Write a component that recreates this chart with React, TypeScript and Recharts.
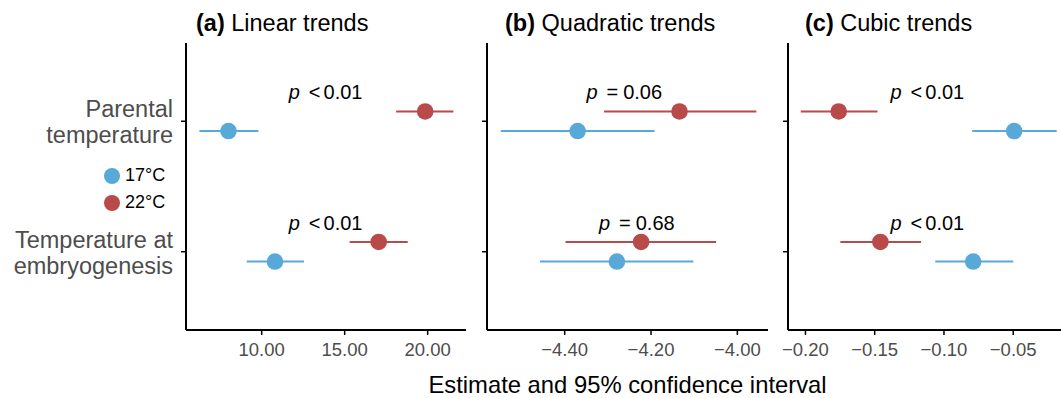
import { ScatterChart, Scatter, XAxis, YAxis, ErrorBar, Legend } from "recharts";

const FONT = "'Liberation Sans', Arial, Helvetica, sans-serif";
const BLUE = "#59a9d8";
const RED = "#b84a4a";

// rows of the y axis (top to bottom)
const rows = ["Parental temperature", "Temperature at embryogenesis"];
const rowLines = [
  ["Parental", "temperature"],
  ["Temperature at", "embryogenesis"],
];
const rowY = [2, 1];
const groups = ["17°C", "22°C"];

// (a) linear trends
const linearEst17 = [8.0, 10.8];
const linearLow17 = [6.25, 9.1];
const linearHigh17 = [9.8, 12.55];
const linearEst22 = [19.85, 17.05];
const linearLow22 = [18.1, 15.3];
const linearHigh22 = [21.55, 18.8];
const linearP = ["< 0.01", "< 0.01"];
const linearPx = [13.85, 13.85];
const linearTicks = [10, 15, 20];

// (b) quadratic trends
const quadEst17 = [-4.37, -4.279];
const quadLow17 = [-4.548, -4.457];
const quadHigh17 = [-4.192, -4.102];
const quadEst22 = [-4.134, -4.223];
const quadLow22 = [-4.309, -4.398];
const quadHigh22 = [-3.956, -4.049];
const quadP = ["= 0.06", "= 0.68"];
const quadPx = [-4.262, -4.233];
const quadTicks = [-4.4, -4.2, -4.0];

// (c) cubic trends
const cubicEst17 = [-0.0493, -0.0789];
const cubicLow17 = [-0.0796, -0.1063];
const cubicHigh17 = [-0.0186, -0.05];
const cubicEst22 = [-0.176, -0.1459];
const cubicLow22 = [-0.2034, -0.1748];
const cubicHigh22 = [-0.148, -0.1165];
const cubicP = ["< 0.01", "< 0.01"];
const cubicPx = [-0.112, -0.112];
const cubicTicks = [-0.2, -0.15, -0.1, -0.05];

const DODGE = 0.075;
const P_RAISE = 0.17;

function series(est: number[], low: number[], high: number[], dodge: number) {
  return est.map((v, i) => ({
    x: v,
    y: rowY[i] + dodge,
    err: [v - low[i], high[i] - v],
    row: rows[i],
  }));
}

function pLabels(texts: string[], xs: number[]) {
  return texts.map((t, i) => ({ x: xs[i], y: rowY[i] + P_RAISE, label: t }));
}

const fmt = (v: number) => v.toFixed(2).replace("-", "\u2212");

const dot = (color: string) => (p: any) => <circle cx={p.cx} cy={p.cy} r={8.3} fill={color} />;

const PText = (p: any) => {
  const [op, val] = p.payload.label.split(" ");
  return (
    <text x={p.cx} y={p.cy} textAnchor="middle" fontSize={20} fill="#000" fontFamily={FONT}>
      <tspan fontStyle="italic">p</tspan>
      <tspan dx={op === "<" ? 9 : 9}>{op}</tspan>
      <tspan dx={op === "<" ? 3 : 5}>{val}</tspan>
    </text>
  );
};

const RowTick = (p: any) => {
  const lines = rowLines[rowY.indexOf(p.payload.value)] || ["", ""];
  return (
    <text x={p.x} y={p.y} textAnchor="end" fontSize={23.5} fill="#4d4d4d" fontFamily={FONT}>
      <tspan x={p.x} dy={-4}>{lines[0]}</tspan>
      <tspan x={p.x} dy={26}>{lines[1]}</tspan>
    </text>
  );
};

const LegendBox = (props: any) => (
  <div style={{ fontFamily: FONT, fontSize: 18, color: "#000" }}>
    {(props.payload || [])
      .filter((it: any) => groups.includes(it.value))
      .map((it: any) => (
        <div key={it.value} style={{ display: "flex", alignItems: "center", height: 27 }}>
          <span
            style={{ width: 16, height: 16, borderRadius: 8, background: it.color, marginRight: 5, display: "inline-block" }}
          />
          <span>{it.value}</span>
        </div>
      ))}
  </div>
);

interface PanelProps {
  left: number;
  width: number;
  yWidth: number;
  marginRight: number;
  domain: [number, number];
  ticks: number[];
  est17: number[];
  low17: number[];
  high17: number[];
  est22: number[];
  low22: number[];
  high22: number[];
  pText: string[];
  pX: number[];
  labels?: boolean;
}

function Panel(props: PanelProps) {
  const { left, width, yWidth, marginRight, domain, ticks, labels } = props;
  return (
    <div style={{ position: "absolute", left, top: 0 }}>
      <ScatterChart width={width} height={398} margin={{ top: 43, right: marginRight, bottom: 38, left: 0 }}>
        <XAxis
          type="number"
          dataKey="x"
          domain={domain}
          ticks={ticks}
          interval={0}
          allowDataOverflow
          tickFormatter={fmt}
          axisLine={{ stroke: "#000", strokeWidth: 2 }}
          tickLine={{ stroke: "#000", strokeWidth: 1.5 }}
          tickSize={5}
          tickMargin={8}
          tick={{ fontSize: 18.5, fill: "#4d4d4d", fontFamily: FONT }}
          height={30}
        />
        <YAxis
          type="number"
          dataKey="y"
          domain={[0.4, 2.6]}
          ticks={rowY}
          allowDataOverflow
          width={yWidth}
          axisLine={{ stroke: "#000", strokeWidth: 2 }}
          tickLine={{ stroke: "#000", strokeWidth: 1.5 }}
          tickSize={5}
          tickMargin={8}
          tick={labels ? RowTick : () => <g />}
        />
        {labels && (
          <Legend
            layout="vertical"
            align="center"
            verticalAlign="middle"
            content={LegendBox}
            wrapperStyle={{ left: 104, top: 162, width: 80, height: 54 }}
          />
        )}
        <Scatter
          name={groups[0]}
          data={series(props.est17, props.low17, props.high17, -DODGE)}
          fill={BLUE}
          shape={dot(BLUE)}
          isAnimationActive={false}
        >
          <ErrorBar dataKey="err" direction="x" width={0} strokeWidth={2} stroke={BLUE} />
        </Scatter>
        <Scatter
          name={groups[1]}
          data={series(props.est22, props.low22, props.high22, DODGE)}
          fill={RED}
          shape={dot(RED)}
          isAnimationActive={false}
        >
          <ErrorBar dataKey="err" direction="x" width={0} strokeWidth={2} stroke={RED} />
        </Scatter>
        <Scatter
          name="p"
          data={pLabels(props.pText, props.pX)}
          legendType="none"
          shape={PText}
          isAnimationActive={false}
        />
      </ScatterChart>
    </div>
  );
}

export default function App() {
  return (
    <div style={{ position: "absolute", left: 0, top: 0, width: 1061, height: 398, background: "#fff", fontFamily: FONT }}>
      <Panel
        left={0}
        width={470}
        yWidth={186}
        marginRight={4}
        domain={[5.44, 22.31]}
        ticks={linearTicks}
        est17={linearEst17}
        low17={linearLow17}
        high17={linearHigh17}
        est22={linearEst22}
        low22={linearLow22}
        high22={linearHigh22}
        pText={linearP}
        pX={linearPx}
        labels
      />
      <Panel
        left={477}
        width={295}
        yWidth={10}
        marginRight={4}
        domain={[-4.58, -3.929]}
        ticks={quadTicks}
        est17={quadEst17}
        low17={quadLow17}
        high17={quadHigh17}
        est22={quadEst22}
        low22={quadLow22}
        high22={quadHigh22}
        pText={quadP}
        pX={quadPx}
      />
      <Panel
        left={778}
        width={283}
        yWidth={10}
        marginRight={0}
        domain={[-0.2126, -0.0155]}
        ticks={cubicTicks}
        est17={cubicEst17}
        low17={cubicLow17}
        high17={cubicHigh17}
        est22={cubicEst22}
        low22={cubicLow22}
        high22={cubicHigh22}
        pText={cubicP}
        pX={cubicPx}
      />
      <svg width={1061} height={398} style={{ position: "absolute", left: 0, top: 0, pointerEvents: "none" }}>
        <g fontFamily={FONT} fill="#000">
          <text x={196} y={31} fontSize={23.5}>
            <tspan fontWeight="bold">(a)</tspan> Linear trends
          </text>
          <text x={505} y={31} fontSize={23.5}>
            <tspan fontWeight="bold">(b)</tspan> Quadratic trends
          </text>
          <text x={805} y={31} fontSize={23.5}>
            <tspan fontWeight="bold">(c)</tspan> Cubic trends
          </text>
          <text x={627.5} y={393} textAnchor="middle" fontSize={23.8}>
            Estimate and 95% confidence interval
          </text>
        </g>
      </svg>
    </div>
  );
}
